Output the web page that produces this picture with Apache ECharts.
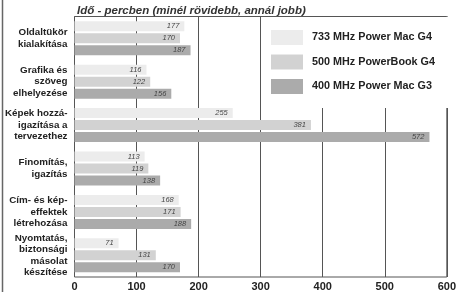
<!DOCTYPE html>
<html>
<head>
<meta charset="utf-8">
<script src="https://cdn.jsdelivr.net/npm/echarts@6/dist/echarts.min.js"></script>
<style>
  html, body { margin: 0; padding: 0; background: #fff; }
  #chart { width: 459px; height: 292px; }
</style>
</head>
<body>
<div id="chart"></div>
<script>
// feladatok (kategóriák)
const categories = [
  "Oldaltükör\nkialakítása",
  "Grafika és\nszöveg\nelhelyezése",
  "Képek hozzá-\nigazítása a\ntervezethez",
  "Finomítás,\nigazítás",
  "Cím- és kép-\neffektek\nlétrehozása",
  "Nyomtatás,\nbiztonsági\nmásolat\nkészítése",
];
const seriesNames = ["733 MHz Power Mac G4", "500 MHz PowerBook G4", "400 MHz Power Mac G3"];
const g4Values = [177, 116, 255, 113, 168, 71];
const powerBookValues = [170, 122, 381, 119, 171, 131];
const g3Values = [187, 156, 572, 138, 188, 170];
const xTicks = [0, 100, 200, 300, 400, 500, 600];

const barColors = ["#ececec", "#d2d2d2", "#ababab"];
const FONT = "Liberation Sans, Arial, sans-serif";

function makeSeries(name, data, col) {
  return {
    name: name,
    type: "bar",
    data: data,
    barWidth: 10,
    barGap: "20%",
    itemStyle: { color: col },
    label: {
      show: true,
      position: "insideRight",
      distance: 5,
      fontFamily: FONT,
      fontStyle: "italic",
      fontSize: 7.5,
      color: "#444",
    },
  };
}

const chart = echarts.init(document.getElementById("chart"), null, { renderer: "canvas" });
chart.setOption({
  backgroundColor: "#fff",
  animation: false,
  title: {
    text: "Idő - percben (minél rövidebb, annál jobb)",
    left: 72,
    top: 0,
    textStyle: {
      fontFamily: FONT,
      fontStyle: "italic",
      fontWeight: "bold",
      fontSize: 11.5,
      color: "#333",
    },
  },
  legend: {
    orient: "vertical",
    left: 266,
    top: 25,
    padding: 5,
    itemWidth: 32,
    itemHeight: 15,
    itemGap: 9.5,
    icon: "rect",
    z: 10,
    data: seriesNames,
    textStyle: {
      fontFamily: FONT,
      fontWeight: "bold",
      fontSize: 10.8,
      color: "#222",
      padding: [0, 0, 0, 4],
    },
  },
  graphic: [
    {
      type: "rect",
      z: 1,
      shape: { x: 263, y: 17, width: 185, height: 91 },
      style: { fill: "#fff" },
    },
    {
      type: "line",
      z: 1,
      shape: { x1: 2.5, y1: 0, x2: 2.5, y2: 292 },
      style: { stroke: "#666", lineWidth: 1.5 },
    },
  ],
  grid: {
    show: true,
    left: 74.5,
    right: 10.5,
    top: 16.5,
    bottom: 13.5,
    borderColor: "#555",
    borderWidth: 1,
    backgroundColor: "transparent",
    containLabel: false,
  },
  xAxis: {
    type: "value",
    min: xTicks[0],
    max: xTicks[xTicks.length - 1],
    interval: 100,
    axisLine: { show: false },
    axisTick: { show: false },
    axisLabel: {
      margin: 4,
      fontFamily: FONT,
      fontWeight: "bold",
      fontSize: 11,
      color: "#222",
      showMaxLabel: true,
      showMinLabel: true,
    },
    splitLine: { lineStyle: { color: "#555", width: 1 } },
  },
  yAxis: {
    type: "category",
    inverse: true,
    data: categories,
    axisLine: { show: false },
    axisTick: { show: false },
    axisLabel: {
      margin: 7,
      fontFamily: FONT,
      fontWeight: "bold",
      fontSize: 9.8,
      lineHeight: 11.5,
      color: "#222",
      align: "right",
    },
  },
  series: [
    makeSeries(seriesNames[0], g4Values, barColors[0]),
    makeSeries(seriesNames[1], powerBookValues, barColors[1]),
    makeSeries(seriesNames[2], g3Values, barColors[2]),
  ],
});
</script>
</body>
</html>
